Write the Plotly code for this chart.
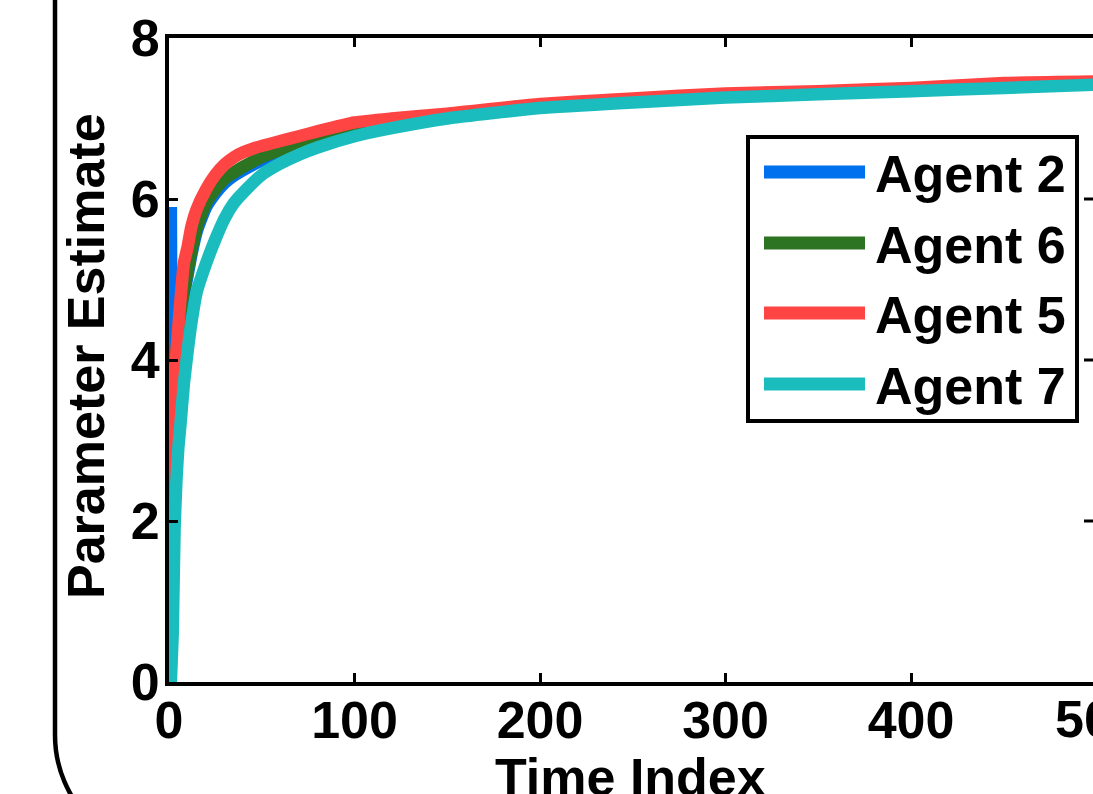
import plotly.graph_objects as go

# ---- data ----
time_index = [1, 2, 3, 4, 5, 6, 8, 10, 12, 15, 20, 25, 30, 35, 40, 50, 60, 70, 80,
              100, 120, 150, 200, 250, 300, 350, 400, 450, 500]
agent2 = [5.9, 3.7, 3.8, 4.1, 4.3, 4.5, 4.8, 5.05, 5.3, 5.6, 5.9, 6.07, 6.2, 6.29, 6.36,
          6.48, 6.58, 6.66, 6.73, 6.86, 6.93, 7.03, 7.15, 7.22, 7.28, 7.32, 7.36, 7.4, 7.44]
agent6 = [1.8, 3.2, 3.75, 4.1, 4.35, 4.55, 4.85, 5.1, 5.35, 5.65, 5.95, 6.12, 6.25, 6.33, 6.4,
          6.52, 6.61, 6.69, 6.76, 6.88, 6.95, 7.04, 7.16, 7.23, 7.29, 7.33, 7.37, 7.41, 7.45]
agent5 = [2.0, 3.3, 3.8, 4.1, 4.4, 4.7, 5.2, 5.4, 5.65, 5.88, 6.12, 6.3, 6.43, 6.52, 6.58,
          6.66, 6.72, 6.78, 6.84, 6.95, 7.0, 7.06, 7.18, 7.25, 7.31, 7.34, 7.38, 7.44, 7.46]
agent7 = [0.0, 0.6, 1.9, 2.5, 2.9, 3.15, 3.7, 4.1, 4.45, 4.85, 5.2, 5.5, 5.76, 5.95, 6.08,
          6.3, 6.44, 6.55, 6.64, 6.78, 6.88, 7.0, 7.13, 7.2, 7.26, 7.3, 7.34, 7.38, 7.42]

series_names = ["Agent 2", "Agent 6", "Agent 5", "Agent 7"]
series_values = [agent2, agent6, agent5, agent7]
series_colors = ["#0070EE", "#2C7322", "#FF4444", "#1ABCBE"]

x_ticks = [0, 100, 200, 300, 400, 500]
y_ticks = [0, 2, 4, 6, 8]
x_title = "Time Index"
y_title = "Parameter Estimate"

# ---- layout geometry (pixels) ----
W, H = 1093, 794
L, T = 169, 38
PW, PH = W - L, 644
B = H - T - PH
PX_PER_UNIT = 1.855
FONT = dict(family="Liberation Sans, Arial, sans-serif", size=52, color="black", weight="bold")


def px_x(px):
    return (px - L) / PW


def px_y(py):
    return (T + PH - py) / PH


fig = go.Figure()
for name, vals, col in zip(series_names, series_values, series_colors):
    fig.add_trace(go.Scatter(x=time_index, y=vals, mode="lines", name=name,
                             line=dict(color=col, width=12.5, shape="spline", smoothing=0.5),
                             showlegend=False))

axis_common = dict(showgrid=False, zeroline=False, showline=True, linecolor="black",
                   linewidth=4, ticks="inside", ticklen=9, tickwidth=3, tickcolor="black",
                   tickfont=FONT)

fig.update_layout(
    width=W, height=H,
    margin=dict(l=L, r=0, t=T, b=B, pad=0),
    paper_bgcolor="white", plot_bgcolor="white",
    xaxis=dict(range=[0, PW / PX_PER_UNIT], tickvals=x_ticks, mirror="ticks",
               ticklabelstandoff=-10, **axis_common),
    yaxis=dict(range=[0, 8], tickvals=y_ticks, mirror=False,
               ticklabelstandoff=-5, **axis_common),
)

shapes = []
annotations = []

# inward ticks of the right-hand axis (its line lies just past the picture edge)
for v in y_ticks[1:-1]:
    shapes.append(dict(type="line", xref="paper", yref="y", x0=1, x1=1 - 9 / PW, y0=v, y1=v,
                       line=dict(color="black", width=3)))

# rounded frame of the surrounding figure (left/bottom part visible)
k = 0.5523
R = 120
fx, fy = 55, 735
path = (f"M{px_x(fx)},{px_y(-20)} L{px_x(fx)},{px_y(fy)} "
        f"C{px_x(fx)},{px_y(fy + R * k)} {px_x(fx + R - R * k)},{px_y(fy + R)} {px_x(fx + R)},{px_y(fy + R)} "
        f"L{px_x(1300)},{px_y(fy + R)}")
shapes.append(dict(type="path", xref="paper", yref="paper", path=path,
                   line=dict(color="black", width=4.5)))

# legend box
shapes.append(dict(type="rect", xref="paper", yref="paper",
                   x0=px_x(748), x1=px_x(1077), y0=px_y(421), y1=px_y(137),
                   line=dict(color="black", width=4), fillcolor="white"))
row_y = [172, 243, 313, 384]
for name, col, ry in zip(series_names, series_colors, row_y):
    shapes.append(dict(type="line", xref="paper", yref="paper",
                       x0=px_x(764), x1=px_x(865), y0=px_y(ry), y1=px_y(ry),
                       line=dict(color=col, width=13)))
    annotations.append(dict(text=name, xref="paper", yref="paper", x=px_x(873), y=px_y(ry + 2),
                            xanchor="left", yanchor="middle", showarrow=False, font=FONT))

# axis titles
annotations.append(dict(text=y_title, xref="paper", yref="paper", x=px_x(86), y=px_y(356),
                        xanchor="center", yanchor="middle", textangle=-90, showarrow=False, font=FONT))
annotations.append(dict(text=x_title, xref="paper", yref="paper", x=px_x(630), y=px_y(777),
                        xanchor="center", yanchor="middle", showarrow=False, font=FONT))
# tick label at 500, cut by the right edge of the picture
annotations.append(dict(text=str(x_ticks[-1]), xref="paper", yref="paper", x=px_x(1053), y=px_y(719),
                        xanchor="left", yanchor="middle", showarrow=False, font=FONT))

fig.update_layout(shapes=shapes, annotations=annotations)

fig.write_html("out.html", config={"displayModeBar": False},
               post_script="document.body.style.margin='0';document.body.style.overflow='hidden';")
